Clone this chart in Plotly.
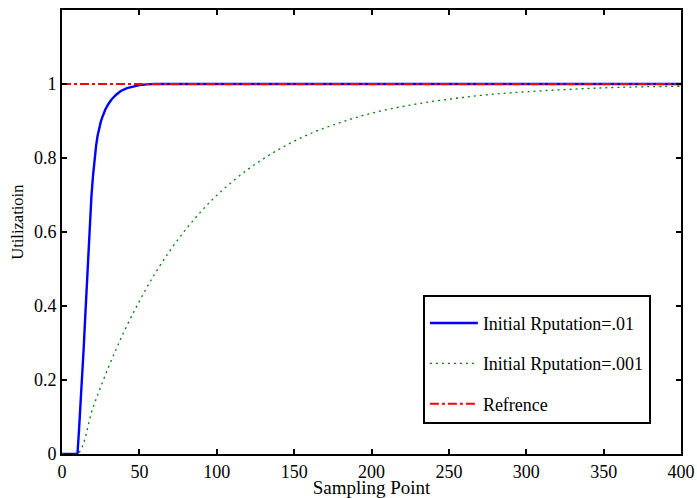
import plotly.graph_objects as go

# Blue curve: Initial Rputation=.01
x_fast = [0, 10, 11, 12, 13, 14, 15, 16, 17, 18, 19, 20, 21, 22, 23, 24, 25, 26, 27, 28, 30,
          32, 35, 38, 42, 46, 50, 55, 60, 400]
y_fast = [0, 0, 0.065, 0.13, 0.2, 0.285, 0.37, 0.46, 0.545, 0.625, 0.695, 0.75, 0.795, 0.832,
          0.86, 0.88, 0.897, 0.91, 0.921, 0.931, 0.946, 0.958, 0.971, 0.981, 0.989, 0.994,
          0.997, 0.999, 1.0, 1.0]

# Green curve: Initial Rputation=.001
x_slow = [0, 10, 20, 30, 40, 50, 60, 70, 80, 90, 100, 120, 140, 160, 180, 200, 225, 250,
          275, 300, 330, 360, 400]
y_slow = [0, 0, 0.125, 0.234, 0.330, 0.413, 0.487, 0.551, 0.607, 0.656, 0.699, 0.769,
          0.823, 0.865, 0.896, 0.921, 0.943, 0.959, 0.971, 0.979, 0.986, 0.991, 0.994]

# Reference line
x_ref = [0, 400]
y_ref = [1, 1]

y_tickvals = [0, 0.2, 0.4, 0.6, 0.8, 1]
y_ticktext = ["0", "0.2", "0.4", "0.6", "0.8", "1"]
x_tickvals = [0, 50, 100, 150, 200, 250, 300, 350, 400]

font_family = "Liberation Serif, Times New Roman, serif"

fig = go.Figure()
fig.add_trace(go.Scatter(x=x_fast, y=y_fast, mode="lines", name="Initial Rputation=.01",
                         line=dict(color="#0000ff", width=2.4),
                         legendgroup="a"))
fig.add_trace(go.Scatter(x=x_slow, y=y_slow, mode="lines", name="Initial Rputation=.001",
                         line=dict(color="#008000", width=1.3, dash="2px,4px", shape="spline"),
                         legendgroup="b"))
fig.add_trace(go.Scatter(x=x_ref, y=y_ref, mode="lines", name="Refrence",
                         line=dict(color="#ff0000", width=2, dash="dashdot"), legendgroup="c"))

axis_common = dict(showline=True, linecolor="black", linewidth=2, mirror="ticks",
                   ticks="inside", ticklen=5, tickwidth=2, tickcolor="black",
                   showgrid=False, zeroline=False, automargin=False,
                   tickfont=dict(family=font_family, size=18, color="black"))

fig.update_layout(
    width=697, height=498,
    margin=dict(l=62, r=16, t=10, b=44),
    plot_bgcolor="white", paper_bgcolor="white",
    font=dict(family=font_family, size=17, color="black"),
    xaxis=dict(range=[0, 400], tickvals=x_tickvals, **axis_common,
               title=dict(text="Sampling Point", font=dict(family=font_family, size=19),
                          standoff=1)),
    yaxis=dict(range=[0, 1.2], tickvals=y_tickvals, ticktext=y_ticktext, **axis_common),
    legend=dict(x=0.583, y=0.358, xanchor="left", yanchor="top",
                bordercolor="black", borderwidth=2, bgcolor="white",
                font=dict(family=font_family, size=18), tracegroupgap=14,
                itemwidth=48,
                title=dict(text=" ", font=dict(size=6))),
    showlegend=True,
)

# y-axis title, placed where the reference draws it
fig.add_annotation(text="Utilizatioin", xref="paper", yref="paper", x=-0.071, y=0.521,
                   xanchor="center", yanchor="middle", textangle=-90, showarrow=False,
                   font=dict(family=font_family, size=16.5, color="black"))

fig.write_html("out.html", config={"displayModeBar": False},
               post_script="document.body.style.margin='0';document.body.style.overflow='hidden';")
